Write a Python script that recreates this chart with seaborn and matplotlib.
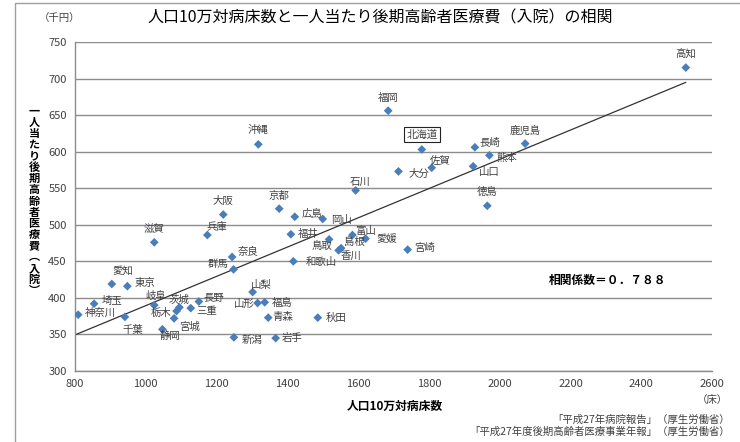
import numpy as np
import pandas as pd
import seaborn as sns
import matplotlib.pyplot as plt
from matplotlib.patches import Rectangle

# prefecture data
prefectures = [
    "北海道", "青森", "岩手", "宮城", "秋田", "山形", "福島", "茨城", "栃木", "群馬",
    "埼玉", "千葉", "東京", "神奈川", "新潟", "富山", "石川", "福井", "山梨", "長野",
    "岐阜", "静岡", "愛知", "三重", "滋賀", "京都", "大阪", "兵庫", "奈良", "和歌山",
    "鳥取", "島根", "岡山", "広島", "山口", "徳島", "香川", "愛媛", "高知", "福岡",
    "佐賀", "長崎", "熊本", "大分", "宮崎", "鹿児島", "沖縄",
]
beds = [
    1780, 1346, 1367, 1080, 1486, 1316, 1336, 1095, 1087, 1248,
    854, 941, 948, 809, 1249, 1584, 1593, 1410, 1302, 1150,
    1024, 1047, 904, 1127, 1024, 1377, 1219, 1174, 1244, 1417,
    1518, 1552, 1500, 1421, 1925, 1965, 1545, 1621, 2526, 1685,
    1808, 1930, 1971, 1714, 1740, 2072, 1318,
]
costs = [
    603, 373, 345, 372, 373, 393, 394, 387, 382, 439,
    392, 374, 416, 377, 346, 486, 547, 487, 408, 395,
    390, 357, 419, 386, 476, 522, 514, 486, 456, 450,
    480, 468, 508, 511, 580, 526, 465, 481, 715, 656,
    578, 606, 595, 573, 466, 611, 610,
]
x_ticks = [800, 1000, 1200, 1400, 1600, 1800, 2000, 2200, 2400, 2600]
y_ticks = [300, 350, 400, 450, 500, 550, 600, 650, 700, 750]

# label offsets in pixels (dx, dy), default is straight above
label_offsets = {
    "神奈川": (22, 2), "埼玉": (18, 3), "愛知": (11, 13), "東京": (18, 3),
    "千葉": (8, -13), "滋賀": (0, 14), "岐阜": (1, 9), "茨城": (0, 8),
    "栃木": (-15, -2), "宮城": (15, -8), "静岡": (8, -7), "三重": (16, -3),
    "長野": (15, 4), "兵庫": (9, 8), "大阪": (0, 14), "奈良": (16, 5),
    "群馬": (-15, 5), "新潟": (18, -2), "山梨": (9, 7), "山形": (-13, -1),
    "福島": (17, -1), "青森": (15, 1), "岩手": (16, 0), "秋田": (18, 0),
    "和歌山": (28, -1), "福井": (17, 0), "鳥取": (-7, -7), "島根": (13, 6),
    "香川": (12, -5), "富山": (13, 4), "愛媛": (21, 0), "岡山": (19, -1),
    "広島": (17, 3), "京都": (0, 13), "沖縄": (0, 14), "石川": (4, 9),
    "福岡": (0, 13), "北海道": (0, 15), "長崎": (15, 4), "鹿児島": (0, 13),
    "熊本": (17, -2), "山口": (16, -6), "佐賀": (8, 7), "大分": (20, -2),
    "徳島": (0, 14), "宮崎": (17, 2), "高知": (0, 14),
}

df = pd.DataFrame({"pref": prefectures, "beds": beds, "cost": costs})

sns.set_theme(style="white")
plt.rcParams["font.family"] = ["Noto Sans CJK JP", "DejaVu Sans"]

fig = plt.figure(figsize=(7.4, 4.42), dpi=100)
ax = fig.add_axes([75 / 740, 1 - 371 / 442, 637 / 740, 329 / 442])

grid_color = "#8c8c8c"
text_color = "#404040"

sns.scatterplot(data=df, x="beds", y="cost", marker="D", s=20,
                color="#4a7ebb", edgecolor="none", ax=ax, zorder=3)

# linear trend line
slope, intercept = np.polyfit(df["beds"], df["cost"], 1)
line_x = np.array([800, df["beds"].max()])
ax.plot(line_x, slope * line_x + intercept, color="#333333", lw=0.9, zorder=2)

for name, bx, cy in zip(prefectures, beds, costs):
    dx, dy = label_offsets.get(name, (0, 13))
    box = None
    if name == "北海道":
        box = dict(boxstyle="square,pad=0.25", fc="white", ec="#222222", lw=0.8)
    ax.annotate(name, (bx, cy), xytext=(dx, dy), textcoords="offset pixels",
                ha="center", va="center", fontsize=7.5, color=text_color,
                bbox=box, zorder=4)

ax.set_xlim(800, 2600)
ax.set_ylim(300, 750)
ax.set_xticks(x_ticks)
ax.set_yticks(y_ticks)
ax.yaxis.grid(True, color=grid_color, lw=1)
ax.set_axisbelow(True)
for side in ["top", "right"]:
    ax.spines[side].set_visible(False)
for side in ["left", "bottom"]:
    ax.spines[side].set_color(grid_color)
    ax.spines[side].set_linewidth(1)
ax.tick_params(axis="both", which="major", direction="out", length=4,
               color=grid_color, labelsize=8, labelcolor=text_color, pad=2)
ax.set_xlabel("")
ax.set_ylabel("")

# titles and annotations
fig.text(380 / 740, 1 - 18 / 442, "人口10万対病床数と一人当たり後期高齢者医療費（入院）の相関",
         ha="center", va="center", fontsize=11.5, color="black")
fig.text(60 / 740, 1 - 18 / 442, "（千円）", ha="center", va="center",
         fontsize=7.5, color=text_color)
fig.text(712 / 740, 1 - 400 / 442, "（床）", ha="center", va="center",
         fontsize=7.5, color=text_color)
fig.text(395 / 740, 1 - 406 / 442, "人口10万対病床数", ha="center", va="center",
         fontsize=8.5, fontweight="bold", color="black")
fig.text(730 / 740, 1 - 420 / 442, "「平成27年病院報告」（厚生労働省）",
         ha="right", va="center", fontsize=7.5, color=text_color)
fig.text(730 / 740, 1 - 432 / 442, "「平成27年度後期高齢者医療事業年報」（厚生労働省）",
         ha="right", va="center", fontsize=7.5, color=text_color)
fig.text(608 / 740, 1 - 280 / 442, "相関係数＝０．７８８", ha="center", va="center",
         fontsize=8.5, fontweight="bold", color="black")

ylabel = "\n".join("一人当たり後期高齢者医療費︵入院︶")
fig.text(34 / 740, 1 - 201 / 442, ylabel, ha="center", va="center",
         fontsize=8, fontweight="bold", color="black", linespacing=0.82)

# outer frame
fig.patches.append(Rectangle((15 / 740, -0.05), 1.0, 1.05 - 3 / 442,
                             transform=fig.transFigure, fill=False,
                             ec="#a0a0a0", lw=1))

fig.savefig("out.png", dpi=100)
